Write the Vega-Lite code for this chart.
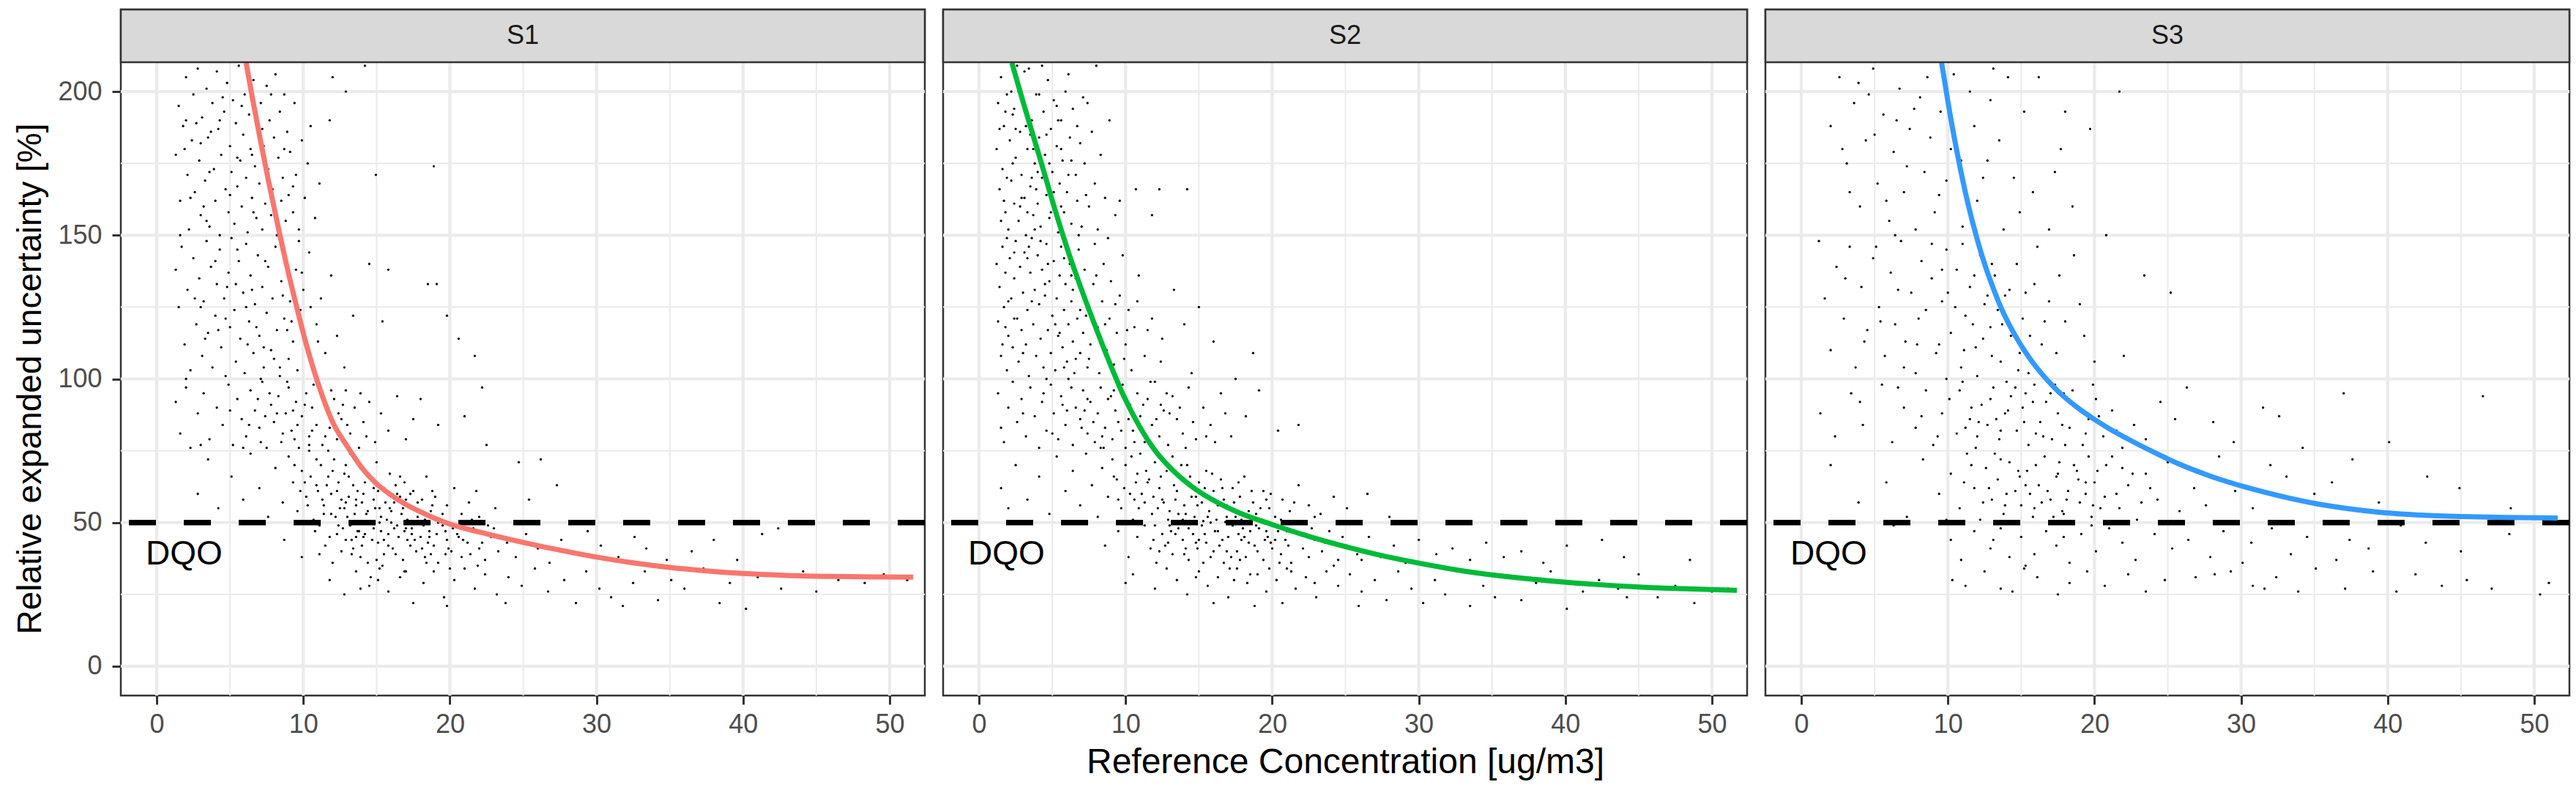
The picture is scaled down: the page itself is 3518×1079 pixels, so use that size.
{
  "$schema": "https://vega.github.io/schema/vega-lite/v6.json",
  "background": "white",
  "padding": {"left": 16, "top": 9, "right": 5, "bottom": 5},
  "spacing": 25,
  "bounds": "flush",
  "datasets": {
    "gxmaj": [{"v": 0}, {"v": 10}, {"v": 20}, {"v": 30}, {"v": 40}, {"v": 50}],
    "gxmin": [{"v": 5}, {"v": 15}, {"v": 25}, {"v": 35}, {"v": 45}],
    "gymaj": [{"v": 0}, {"v": 50}, {"v": 100}, {"v": 150}, {"v": 200}],
    "gymin": [{"v": 25}, {"v": 75}, {"v": 125}, {"v": 175}],
    "st1": [{"strip": "S1"}],
    "st2": [{"strip": "S2"}],
    "st3": [{"strip": "S3"}],
    "f1": [
      {"x": 6.1, "y": 210}, {"x": 6.5, "y": 198.5}, {"x": 7.0, "y": 185}, {"x": 7.6, "y": 169.5}, {"x": 8.3, "y": 152.5},
      {"x": 9.0, "y": 136.5}, {"x": 9.6, "y": 124}, {"x": 10.1, "y": 114}, {"x": 10.6, "y": 105}, {"x": 11.2, "y": 95.5},
      {"x": 12.0, "y": 85}, {"x": 13.0, "y": 76.5}, {"x": 14.0, "y": 69}, {"x": 15.0, "y": 63.5}, {"x": 16.0, "y": 59.5},
      {"x": 17.0, "y": 56.3}, {"x": 18.0, "y": 53.7}, {"x": 19.0, "y": 51.4}, {"x": 20.0, "y": 49.5}, {"x": 21.0, "y": 48.0},
      {"x": 22.5, "y": 46.1}, {"x": 25.0, "y": 43.1}, {"x": 27.5, "y": 40.4}, {"x": 30.0, "y": 38.0}, {"x": 32.5, "y": 36.0},
      {"x": 35.0, "y": 34.4}, {"x": 37.5, "y": 33.2}, {"x": 40.0, "y": 32.3}, {"x": 43.0, "y": 31.6}, {"x": 46.0, "y": 31.25},
      {"x": 49.0, "y": 31.08}, {"x": 51.6, "y": 31.0}
    ],
    "f2": [
      {"x": 2.24, "y": 210}, {"x": 3.0, "y": 196.5}, {"x": 4.25, "y": 175.2}, {"x": 5.1, "y": 160.3}, {"x": 6.04, "y": 145},
      {"x": 7.0, "y": 131}, {"x": 7.83, "y": 119.7}, {"x": 8.8, "y": 107}, {"x": 9.84, "y": 94.4}, {"x": 11.0, "y": 83},
      {"x": 12.08, "y": 74.6}, {"x": 13.2, "y": 68.3}, {"x": 14.3, "y": 63.4}, {"x": 15.9, "y": 58}, {"x": 17.7, "y": 53.5},
      {"x": 20.0, "y": 49.3}, {"x": 22.5, "y": 45.2}, {"x": 25.1, "y": 41.5}, {"x": 27.5, "y": 38.5}, {"x": 30.0, "y": 35.9},
      {"x": 33.0, "y": 33.2}, {"x": 36.0, "y": 31.2}, {"x": 39.0, "y": 29.7}, {"x": 42.0, "y": 28.5}, {"x": 45.0, "y": 27.6},
      {"x": 48.0, "y": 27.0}, {"x": 51.7, "y": 26.4}
    ],
    "f3": [
      {"x": 9.57, "y": 210}, {"x": 10.0, "y": 196.5}, {"x": 10.6, "y": 179.5}, {"x": 11.3, "y": 162.5}, {"x": 12.0, "y": 148.5},
      {"x": 12.6, "y": 138.5}, {"x": 13.1, "y": 131.5}, {"x": 13.65, "y": 124.5}, {"x": 14.6, "y": 115.0}, {"x": 15.2, "y": 110.0},
      {"x": 15.8, "y": 105.6}, {"x": 16.4, "y": 101.8}, {"x": 17.0, "y": 98.4}, {"x": 17.6, "y": 95.3}, {"x": 18.3, "y": 92.2},
      {"x": 19.0, "y": 89.4}, {"x": 20.0, "y": 85.9}, {"x": 21.0, "y": 82.7}, {"x": 22.2, "y": 79.3}, {"x": 24.0, "y": 74.6},
      {"x": 25.8, "y": 70.3}, {"x": 28.0, "y": 66.0}, {"x": 30.2, "y": 62.5}, {"x": 32.7, "y": 59.2}, {"x": 35.2, "y": 56.5},
      {"x": 37.5, "y": 54.7}, {"x": 39.6, "y": 53.5}, {"x": 42.3, "y": 52.6}, {"x": 45.1, "y": 52.1}, {"x": 48.0, "y": 51.8},
      {"x": 51.6, "y": 51.6}
    ],
    "s1": [
      {"x":1.3,"y":178},{"x":1.5,"y":195},{"x":1.6,"y":162},{"x":1.8,"y":188},{"x":2.0,"y":205},{"x":2.1,"y":171},{"x":2.2,"y":152},{"x":2.4,"y":183},{"x":2.5,"y":199},{"x":2.6,"y":165},
      {"x":2.8,"y":208},{"x":2.9,"y":176},{"x":3.0,"y":157},{"x":3.1,"y":191},{"x":3.3,"y":169},{"x":3.4,"y":201},{"x":3.5,"y":184},{"x":3.6,"y":153},{"x":3.8,"y":196},{"x":3.9,"y":173},
      {"x":4.0,"y":162},{"x":4.1,"y":207},{"x":4.2,"y":187},{"x":4.3,"y":150},{"x":4.4,"y":178},{"x":4.6,"y":193},{"x":4.7,"y":166},{"x":4.8,"y":203},{"x":4.9,"y":158},{"x":5.0,"y":181},
      {"x":5.1,"y":172},{"x":5.2,"y":197},{"x":5.3,"y":154},{"x":5.4,"y":189},{"x":5.5,"y":167},{"x":5.6,"y":209},{"x":5.7,"y":176},{"x":5.8,"y":160},{"x":5.9,"y":185},{"x":6.0,"y":199},
      {"x":6.1,"y":170},{"x":6.2,"y":151},{"x":6.3,"y":192},{"x":6.4,"y":180},{"x":6.5,"y":163},{"x":6.6,"y":204},{"x":6.7,"y":174},{"x":6.8,"y":156},{"x":6.9,"y":187},{"x":7.0,"y":168},
      {"x":7.1,"y":196},{"x":7.2,"y":152},{"x":7.3,"y":181},{"x":7.4,"y":161},{"x":7.5,"y":202},{"x":7.6,"y":173},{"x":7.7,"y":190},{"x":7.8,"y":157},{"x":7.9,"y":166},{"x":8.0,"y":184},
      {"x":8.1,"y":206},{"x":8.2,"y":150},{"x":8.3,"y":177},{"x":8.4,"y":193},{"x":8.5,"y":162},{"x":8.6,"y":170},{"x":8.7,"y":199},{"x":8.8,"y":155},{"x":8.9,"y":186},{"x":9.0,"y":164},
      {"x":9.1,"y":179},{"x":9.3,"y":158},{"x":9.4,"y":196},{"x":9.5,"y":171},{"x":9.7,"y":152},{"x":9.9,"y":183},{"x":10.1,"y":163},{"x":10.3,"y":175},{"x":10.5,"y":188},{"x":10.8,"y":156},
      {"x":11.1,"y":168},{"x":11.8,"y":190},{"x":12.0,"y":205},{"x":12.9,"y":200},{"x":14.2,"y":209},{"x":14.95,"y":171},{"x":18.9,"y":174},{"x":3.7,"y":186},{"x":2.7,"y":189},{"x":4.5,"y":198},
      {"x":5.5,"y":177},{"x":1.9,"y":180},{"x":6.6,"y":158},{"x":3.2,"y":160},{"x":7.8,"y":199},
      {"x":1.3,"y":138},{"x":1.5,"y":125},{"x":1.7,"y":146},{"x":1.9,"y":112},{"x":2.1,"y":131},{"x":2.3,"y":103},{"x":2.5,"y":142},{"x":2.7,"y":119},{"x":2.9,"y":135},{"x":3.1,"y":108},
      {"x":3.2,"y":127},{"x":3.4,"y":148},{"x":3.5,"y":116},{"x":3.7,"y":139},{"x":3.8,"y":104},{"x":4.0,"y":122},{"x":4.1,"y":133},{"x":4.3,"y":145},{"x":4.4,"y":111},{"x":4.6,"y":128},
      {"x":4.7,"y":101},{"x":4.9,"y":137},{"x":5.0,"y":118},{"x":5.1,"y":149},{"x":5.3,"y":124},{"x":5.4,"y":106},{"x":5.6,"y":141},{"x":5.7,"y":114},{"x":5.9,"y":130},{"x":6.0,"y":102},
      {"x":6.1,"y":147},{"x":6.3,"y":120},{"x":6.4,"y":136},{"x":6.6,"y":109},{"x":6.7,"y":126},{"x":6.9,"y":143},{"x":7.0,"y":115},{"x":7.2,"y":132},{"x":7.3,"y":104},{"x":7.5,"y":123},
      {"x":7.6,"y":139},{"x":7.8,"y":110},{"x":7.9,"y":128},{"x":8.1,"y":146},{"x":8.2,"y":117},{"x":8.4,"y":101},{"x":8.5,"y":134},{"x":8.7,"y":121},{"x":8.8,"y":142},{"x":9.0,"y":107},
      {"x":9.1,"y":127},{"x":9.3,"y":113},{"x":9.5,"y":138},{"x":9.6,"y":103},{"x":9.8,"y":124},{"x":10.0,"y":131},{"x":10.2,"y":112},{"x":10.4,"y":144},{"x":10.6,"y":105},{"x":10.9,"y":119},
      {"x":11.2,"y":128},{"x":11.5,"y":109},{"x":11.9,"y":136},{"x":12.3,"y":115},{"x":12.8,"y":104},{"x":13.4,"y":122},{"x":14.5,"y":140},{"x":15.8,"y":138},{"x":18.5,"y":133},{"x":19.1,"y":133},
      {"x":19.8,"y":122},{"x":15.4,"y":120},{"x":6.2,"y":112},{"x":4.8,"y":132},{"x":8.9,"y":117},{"x":5.5,"y":145},{"x":3.0,"y":125},{"x":7.1,"y":100},{"x":2.0,"y":100},{"x":9.7,"y":148},
      {"x":1.3,"y":92},{"x":1.6,"y":81},{"x":2.0,"y":97},{"x":2.3,"y":76},{"x":2.8,"y":88},{"x":3.2,"y":95},{"x":3.6,"y":79},{"x":4.1,"y":90},{"x":4.5,"y":84},{"x":4.9,"y":98},
      {"x":5.2,"y":77},{"x":5.5,"y":93},{"x":5.8,"y":86},{"x":6.1,"y":80},{"x":6.4,"y":96},{"x":6.7,"y":89},{"x":7.0,"y":83},{"x":7.2,"y":99},{"x":7.5,"y":76},{"x":7.8,"y":91},
      {"x":8.0,"y":85},{"x":8.3,"y":94},{"x":8.5,"y":78},{"x":8.8,"y":88},{"x":9.0,"y":97},{"x":9.2,"y":82},{"x":9.5,"y":92},{"x":9.7,"y":76},{"x":9.9,"y":87},{"x":10.2,"y":95},
      {"x":10.4,"y":80},{"x":10.6,"y":90},{"x":10.9,"y":84},{"x":11.1,"y":98},{"x":11.3,"y":77},{"x":11.6,"y":89},{"x":11.8,"y":83},{"x":12.1,"y":93},{"x":12.3,"y":79},{"x":12.6,"y":86},
      {"x":12.9,"y":96},{"x":13.2,"y":81},{"x":13.5,"y":90},{"x":13.8,"y":76},{"x":14.1,"y":85},{"x":14.5,"y":92},{"x":14.9,"y":78},{"x":15.3,"y":88},{"x":15.8,"y":82},{"x":16.4,"y":94},
      {"x":17.0,"y":79},{"x":18.0,"y":93},{"x":17.5,"y":86},{"x":20.6,"y":114},{"x":21.7,"y":108},{"x":22.2,"y":97},{"x":21.0,"y":87},{"x":19.2,"y":84},{"x":6.9,"y":93},{"x":8.6,"y":81},
      {"x":10.7,"y":98},{"x":12.4,"y":88},{"x":11.4,"y":92},{"x":13.9,"y":95},{"x":9.4,"y":79},{"x":5.9,"y":76},{"x":7.4,"y":87},{"x":3.0,"y":77},
      {"x":2.8,"y":60},{"x":3.5,"y":72},{"x":4.2,"y":55},{"x":5.1,"y":66},{"x":5.9,"y":58},{"x":6.4,"y":74},{"x":7.0,"y":62},{"x":7.6,"y":52},{"x":8.1,"y":69},{"x":8.6,"y":57},
      {"x":9.0,"y":73},{"x":9.3,"y":64},{"x":9.6,"y":54},{"x":9.9,"y":68},{"x":10.2,"y":59},{"x":10.4,"y":75},{"x":10.7,"y":51},{"x":10.9,"y":63},{"x":11.2,"y":70},{"x":11.4,"y":56},
      {"x":11.7,"y":66},{"x":11.9,"y":53},{"x":12.1,"y":72},{"x":12.3,"y":61},{"x":12.6,"y":58},{"x":12.8,"y":67},{"x":13.0,"y":52},{"x":13.2,"y":74},{"x":13.4,"y":63},{"x":13.6,"y":56},
      {"x":13.9,"y":69},{"x":14.1,"y":60},{"x":14.3,"y":53},{"x":14.6,"y":65},{"x":14.8,"y":58},{"x":15.0,"y":71},{"x":15.2,"y":55},{"x":15.5,"y":62},{"x":15.7,"y":51},{"x":15.9,"y":67},
      {"x":16.2,"y":57},{"x":16.4,"y":60},{"x":16.7,"y":53},{"x":16.9,"y":64},{"x":17.2,"y":56},{"x":17.5,"y":61},{"x":17.8,"y":52},{"x":18.1,"y":58},{"x":18.4,"y":66},{"x":18.7,"y":54},
      {"x":19.0,"y":59},{"x":19.4,"y":51},{"x":19.8,"y":56},{"x":20.3,"y":62},{"x":20.8,"y":53},{"x":21.3,"y":57},{"x":22.0,"y":52},{"x":22.5,"y":77},{"x":23.1,"y":55},{"x":24.7,"y":71},
      {"x":26.2,"y":72},{"x":27.3,"y":63},{"x":25.4,"y":58},{"x":12.5,"y":55},{"x":13.1,"y":59},{"x":14.4,"y":67},{"x":15.3,"y":52},{"x":16.0,"y":54},{"x":17.0,"y":58},{"x":11.0,"y":61},
      {"x":10.1,"y":64},{"x":18.8,"y":61},{"x":16.6,"y":66},{"x":14.0,"y":50.5},{"x":21.8,"y":61},
      {"x":8.7,"y":44},{"x":9.9,"y":38},{"x":10.8,"y":47},{"x":11.5,"y":42},{"x":12.0,"y":36},{"x":12.4,"y":49},{"x":12.9,"y":44},{"x":13.3,"y":39},{"x":13.7,"y":47},{"x":14.0,"y":42},
      {"x":14.4,"y":36},{"x":14.8,"y":48},{"x":15.1,"y":43},{"x":15.5,"y":39},{"x":15.8,"y":46},{"x":16.1,"y":41},{"x":16.4,"y":49},{"x":16.8,"y":37},{"x":17.1,"y":44},{"x":17.4,"y":48},
      {"x":17.7,"y":40},{"x":18.0,"y":45},{"x":18.3,"y":38},{"x":18.6,"y":47},{"x":18.9,"y":42},{"x":19.2,"y":36},{"x":19.5,"y":49},{"x":19.8,"y":44},{"x":20.1,"y":40},{"x":20.5,"y":46},
      {"x":20.8,"y":38},{"x":21.2,"y":43},{"x":21.6,"y":48},{"x":22.0,"y":41},{"x":22.4,"y":37},{"x":22.8,"y":45},{"x":23.3,"y":40},{"x":23.9,"y":43},{"x":24.5,"y":38},{"x":25.2,"y":46},
      {"x":26.0,"y":41},{"x":26.8,"y":36},{"x":27.6,"y":44},{"x":28.5,"y":39},{"x":29.4,"y":47},{"x":30.3,"y":42},{"x":31.5,"y":38},{"x":32.6,"y":45},{"x":33.4,"y":41},{"x":34.8,"y":37},
      {"x":36.5,"y":40},{"x":38.0,"y":44},{"x":39.6,"y":37},{"x":41.3,"y":46},{"x":42.4,"y":48},{"x":13.6,"y":45},{"x":15.0,"y":37},{"x":16.9,"y":47},{"x":18.1,"y":41},{"x":19.7,"y":39},
      {"x":17.3,"y":42},{"x":14.2,"y":46},{"x":21.4,"y":39},{"x":20.2,"y":48},{"x":11.1,"y":39},{"x":22.6,"y":49},
      {"x":11.8,"y":30},{"x":12.8,"y":25},{"x":13.6,"y":33},{"x":14.5,"y":28},{"x":15.2,"y":34},{"x":15.8,"y":26},{"x":16.6,"y":31},{"x":17.5,"y":22},{"x":18.2,"y":29},{"x":18.9,"y":33},
      {"x":19.6,"y":24},{"x":20.3,"y":30},{"x":21.0,"y":34},{"x":21.7,"y":27},{"x":22.4,"y":32},{"x":23.2,"y":25},{"x":24.0,"y":31},{"x":24.9,"y":28},{"x":25.8,"y":34},{"x":26.7,"y":26},
      {"x":27.8,"y":30},{"x":28.6,"y":22},{"x":29.3,"y":33},{"x":30.2,"y":27},{"x":31.0,"y":24},{"x":31.8,"y":21},{"x":32.5,"y":29},{"x":33.3,"y":33},{"x":34.2,"y":23},{"x":35.1,"y":30},
      {"x":36.0,"y":27},{"x":37.3,"y":34},{"x":38.4,"y":22},{"x":39.1,"y":29},{"x":40.2,"y":20},{"x":41.0,"y":31},{"x":42.6,"y":27},{"x":44.1,"y":33},{"x":45.0,"y":26},{"x":46.5,"y":30},
      {"x":48.3,"y":29},{"x":49.6,"y":32},{"x":51.2,"y":30},{"x":19.8,"y":21},{"x":17.0,"y":33},{"x":23.8,"y":22},{"x":15.1,"y":30},{"x":13.9,"y":27},
      {"x":9.4,"y":70},{"x":9.8,"y":61},{"x":10.3,"y":56},{"x":10.5,"y":66},{"x":10.9,"y":72},{"x":11.1,"y":49},{"x":11.3,"y":58},{"x":11.6,"y":63},{"x":11.8,"y":45},{"x":12.0,"y":68},
      {"x":12.2,"y":52},{"x":12.4,"y":64},{"x":12.7,"y":48},{"x":12.9,"y":57},{"x":13.1,"y":66},{"x":13.3,"y":44},{"x":13.5,"y":53},{"x":13.7,"y":61},{"x":13.8,"y":47},{"x":14.0,"y":57},
      {"x":14.2,"y":64},{"x":14.5,"y":50},{"x":14.7,"y":44},{"x":14.9,"y":55},{"x":15.1,"y":61},{"x":15.3,"y":47},{"x":15.6,"y":57},{"x":15.8,"y":42},{"x":16.0,"y":50},{"x":16.3,"y":63},
      {"x":16.5,"y":45},{"x":16.8,"y":55},{"x":17.0,"y":48},{"x":17.3,"y":60},{"x":17.6,"y":44},{"x":17.9,"y":54},{"x":18.2,"y":49},{"x":18.5,"y":43},{"x":18.8,"y":56},{"x":19.1,"y":46},
      {"x":19.5,"y":53},{"x":19.9,"y":41},{"x":20.4,"y":49},{"x":20.9,"y":44},{"x":21.5,"y":51},{"x":22.2,"y":43},{"x":23.0,"y":48},{"x":12.6,"y":40},{"x":13.9,"y":38},{"x":15.4,"y":35},
      {"x":16.9,"y":33},{"x":18.4,"y":36},{"x":20.0,"y":34},{"x":21.9,"y":35},{"x":14.6,"y":31},
      {"x":2.3,"y":163},{"x":3.0,"y":182},{"x":3.6,"y":172},{"x":4.3,"y":190},{"x":5.0,"y":164},{"x":5.8,"y":195},{"x":6.5,"y":178},{"x":7.2,"y":187},{"x":8.0,"y":159},{"x":8.7,"y":180},
      {"x":9.3,"y":167},{"x":2.6,"y":128},{"x":3.3,"y":114},{"x":4.0,"y":141},{"x":4.7,"y":121},{"x":5.4,"y":133},{"x":6.1,"y":125},{"x":6.8,"y":118},{"x":7.4,"y":141},{"x":8.0,"y":107},
      {"x":8.6,"y":129},{"x":9.2,"y":120},{"x":9.9,"y":137},{"x":10.5,"y":125},{"x":11.0,"y":113},{"x":5.0,"y":89},{"x":6.3,"y":84},{"x":7.7,"y":95},{"x":8.2,"y":88},{"x":9.6,"y":84},
      {"x":10.1,"y":91},{"x":11.5,"y":80},{"x":12.7,"y":91},{"x":13.0,"y":84},{"x":14.3,"y":80},{"x":11.9,"y":96},{"x":10.4,"y":77},{"x":8.9,"y":99},{"x":7.1,"y":78},
      {"x":11.4,"y":53},{"x":11.9,"y":60},{"x":12.3,"y":46},{"x":12.8,"y":55},{"x":13.2,"y":49},{"x":13.6,"y":58},{"x":14.1,"y":45},{"x":14.4,"y":54},{"x":14.8,"y":62},{"x":15.2,"y":50},
      {"x":15.5,"y":44},{"x":15.9,"y":55},{"x":16.2,"y":48},{"x":16.6,"y":59},{"x":17.1,"y":51},{"x":17.4,"y":46},{"x":17.8,"y":57},{"x":18.3,"y":51},{"x":18.6,"y":45},{"x":19.2,"y":50},
      {"x":19.7,"y":47},{"x":20.6,"y":45},{"x":13.4,"y":41},{"x":16.3,"y":39},{"x":18.7,"y":39},{"x":11.7,"y":75},{"x":12.9,"y":70},{"x":10.6,"y":82},{"x":9.3,"y":89},{"x":8.4,"y":104},
      {"x":7.3,"y":111},{"x":6.5,"y":131},{"x":4.2,"y":117},{"x":3.4,"y":155},{"x":2.0,"y":190},{"x":1.6,"y":150}
    ],
    "s2": [
      {"x":1.2,"y":180},{"x":1.3,"y":196},{"x":1.4,"y":166},{"x":1.5,"y":205},{"x":1.6,"y":173},{"x":1.7,"y":188},{"x":1.8,"y":158},{"x":1.9,"y":199},{"x":2.0,"y":152},{"x":2.1,"y":183},
      {"x":2.2,"y":169},{"x":2.3,"y":192},{"x":2.4,"y":161},{"x":2.5,"y":177},{"x":2.6,"y":203},{"x":2.7,"y":155},{"x":2.8,"y":186},{"x":2.9,"y":171},{"x":3.0,"y":196},{"x":3.1,"y":163},
      {"x":3.2,"y":150},{"x":3.3,"y":180},{"x":3.4,"y":208},{"x":3.5,"y":167},{"x":3.6,"y":190},{"x":3.7,"y":157},{"x":3.8,"y":175},{"x":3.9,"y":199},{"x":4.0,"y":161},{"x":4.1,"y":184},
      {"x":4.2,"y":153},{"x":4.3,"y":170},{"x":4.4,"y":193},{"x":4.5,"y":178},{"x":4.6,"y":164},{"x":4.7,"y":204},{"x":4.8,"y":156},{"x":4.9,"y":187},{"x":5.0,"y":172},{"x":5.1,"y":197},
      {"x":5.2,"y":160},{"x":5.3,"y":181},{"x":5.4,"y":151},{"x":5.5,"y":168},{"x":5.6,"y":190},{"x":5.7,"y":176},{"x":5.8,"y":158},{"x":5.9,"y":200},{"x":6.0,"y":165},{"x":6.2,"y":184},
      {"x":6.3,"y":154},{"x":6.4,"y":194},{"x":6.6,"y":171},{"x":6.7,"y":162},{"x":6.9,"y":182},{"x":7.0,"y":153},{"x":7.2,"y":175},{"x":7.4,"y":196},{"x":7.5,"y":160},{"x":7.7,"y":186},
      {"x":7.9,"y":168},{"x":8.1,"y":152},{"x":8.3,"y":178},{"x":8.6,"y":163},{"x":8.9,"y":190},{"x":9.3,"y":157},{"x":9.6,"y":162},{"x":10.7,"y":166},{"x":11.8,"y":157},{"x":14.2,"y":166},
      {"x":12.3,"y":166},{"x":8.0,"y":209},{"x":4.3,"y":209},{"x":3.1,"y":207},{"x":2.6,"y":209},{"x":1.9,"y":170},{"x":2.4,"y":194},{"x":3.5,"y":185},{"x":4.8,"y":175},{"x":5.6,"y":160},
      {"x":6.1,"y":206},{"x":1.5,"y":155},{"x":2.9,"y":163},{"x":3.8,"y":152},{"x":7.1,"y":198},{"x":5.3,"y":195},{"x":4.0,"y":172},{"x":2.2,"y":200},{"x":1.4,"y":187},{"x":3.3,"y":158},
      {"x":6.8,"y":150},
      {"x":1.2,"y":140},{"x":1.3,"y":120},{"x":1.4,"y":132},{"x":1.5,"y":108},{"x":1.6,"y":146},{"x":1.7,"y":125},{"x":1.8,"y":137},{"x":1.9,"y":103},{"x":2.0,"y":115},{"x":2.1,"y":142},
      {"x":2.2,"y":128},{"x":2.3,"y":111},{"x":2.4,"y":135},{"x":2.5,"y":148},{"x":2.6,"y":121},{"x":2.7,"y":106},{"x":2.8,"y":139},{"x":2.9,"y":117},{"x":3.0,"y":130},{"x":3.1,"y":144},
      {"x":3.2,"y":112},{"x":3.3,"y":124},{"x":3.4,"y":101},{"x":3.5,"y":137},{"x":3.6,"y":149},{"x":3.7,"y":119},{"x":3.8,"y":131},{"x":3.9,"y":108},{"x":4.0,"y":143},{"x":4.1,"y":126},
      {"x":4.2,"y":114},{"x":4.3,"y":138},{"x":4.4,"y":104},{"x":4.5,"y":129},{"x":4.6,"y":147},{"x":4.7,"y":117},{"x":4.8,"y":134},{"x":4.9,"y":109},{"x":5.0,"y":122},{"x":5.1,"y":141},
      {"x":5.2,"y":103},{"x":5.3,"y":128},{"x":5.4,"y":115},{"x":5.5,"y":136},{"x":5.6,"y":146},{"x":5.7,"y":111},{"x":5.8,"y":124},{"x":5.9,"y":133},{"x":6.0,"y":106},{"x":6.1,"y":119},
      {"x":6.2,"y":140},{"x":6.3,"y":127},{"x":6.4,"y":113},{"x":6.5,"y":102},{"x":6.6,"y":135},{"x":6.7,"y":121},{"x":6.8,"y":145},{"x":6.9,"y":109},{"x":7.0,"y":130},{"x":7.1,"y":116},
      {"x":7.2,"y":138},{"x":7.4,"y":104},{"x":7.5,"y":124},{"x":7.6,"y":112},{"x":7.8,"y":133},{"x":7.9,"y":147},{"x":8.1,"y":118},{"x":8.2,"y":102},{"x":8.4,"y":127},{"x":8.5,"y":140},
      {"x":8.7,"y":110},{"x":8.9,"y":121},{"x":9.0,"y":134},{"x":9.2,"y":105},{"x":9.4,"y":116},{"x":9.6,"y":129},{"x":9.8,"y":143},{"x":10.0,"y":112},{"x":10.2,"y":124},{"x":10.4,"y":103},
      {"x":10.6,"y":118},{"x":10.9,"y":136},{"x":11.3,"y":108},{"x":11.8,"y":121},{"x":12.5,"y":114},{"x":13.3,"y":131},{"x":14.0,"y":119},{"x":16.0,"y":113},{"x":18.7,"y":109},{"x":14.5,"y":102},
      {"x":15.0,"y":125},{"x":3.4,"y":146},{"x":2.0,"y":127},{"x":4.6,"y":100},{"x":5.8,"y":142},{"x":7.3,"y":122},{"x":6.4,"y":131},{"x":8.8,"y":149},{"x":1.6,"y":112},{"x":9.9,"y":107},
      {"x":1.3,"y":95},{"x":1.5,"y":83},{"x":1.7,"y":78},{"x":2.0,"y":90},{"x":2.3,"y":99},{"x":2.6,"y":85},{"x":2.9,"y":93},{"x":3.2,"y":80},{"x":3.5,"y":97},{"x":3.8,"y":87},
      {"x":4.1,"y":76},{"x":4.3,"y":92},{"x":4.6,"y":82},{"x":4.9,"y":98},{"x":5.1,"y":88},{"x":5.4,"y":79},{"x":5.6,"y":94},{"x":5.9,"y":84},{"x":6.1,"y":100},{"x":6.4,"y":77},
      {"x":6.6,"y":90},{"x":6.9,"y":86},{"x":7.1,"y":96},{"x":7.4,"y":81},{"x":7.6,"y":92},{"x":7.9,"y":78},{"x":8.1,"y":88},{"x":8.3,"y":97},{"x":8.6,"y":83},{"x":8.8,"y":93},
      {"x":9.1,"y":79},{"x":9.3,"y":89},{"x":9.5,"y":85},{"x":9.8,"y":98},{"x":10.0,"y":76},{"x":10.3,"y":91},{"x":10.5,"y":82},{"x":10.8,"y":95},{"x":11.0,"y":87},{"x":11.3,"y":78},
      {"x":11.5,"y":93},{"x":11.8,"y":84},{"x":12.0,"y":99},{"x":12.3,"y":80},{"x":12.6,"y":89},{"x":12.9,"y":77},{"x":13.2,"y":94},{"x":13.5,"y":86},{"x":13.9,"y":81},{"x":14.3,"y":97},
      {"x":14.8,"y":79},{"x":15.3,"y":90},{"x":15.8,"y":84},{"x":16.5,"y":95},{"x":17.2,"y":80},{"x":18.2,"y":87},{"x":19.1,"y":96},{"x":20.4,"y":82},{"x":21.8,"y":84},{"x":17.5,"y":100},
      {"x":16.1,"y":78},{"x":13.0,"y":88},{"x":11.7,"y":99},{"x":10.2,"y":86},{"x":9.0,"y":94},{"x":7.0,"y":83},{"x":8.5,"y":76},{"x":6.0,"y":89},{"x":4.4,"y":95},{"x":3.0,"y":88},
      {"x":12.4,"y":91},{"x":14.1,"y":76},
      {"x":1.5,"y":62},{"x":2.0,"y":55},{"x":2.5,"y":70},{"x":3.3,"y":58},{"x":4.1,"y":66},{"x":4.8,"y":53},{"x":5.3,"y":73},{"x":5.9,"y":61},{"x":6.4,"y":68},{"x":6.9,"y":56},
      {"x":7.3,"y":74},{"x":7.7,"y":63},{"x":8.1,"y":52},{"x":8.4,"y":69},{"x":8.8,"y":59},{"x":9.1,"y":72},{"x":9.4,"y":65},{"x":9.7,"y":55},{"x":10.0,"y":70},{"x":10.3,"y":60},
      {"x":10.5,"y":51},{"x":10.8,"y":67},{"x":11.0,"y":74},{"x":11.3,"y":57},{"x":11.5,"y":64},{"x":11.8,"y":53},{"x":12.0,"y":71},{"x":12.3,"y":62},{"x":12.5,"y":58},{"x":12.8,"y":68},
      {"x":13.0,"y":54},{"x":13.2,"y":73},{"x":13.5,"y":61},{"x":13.7,"y":66},{"x":14.0,"y":56},{"x":14.2,"y":70},{"x":14.5,"y":59},{"x":14.7,"y":52},{"x":15.0,"y":64},{"x":15.2,"y":57},
      {"x":15.5,"y":68},{"x":15.7,"y":54},{"x":16.0,"y":61},{"x":16.2,"y":51},{"x":16.5,"y":65},{"x":16.7,"y":58},{"x":17.0,"y":55},{"x":17.3,"y":62},{"x":17.5,"y":52},{"x":17.8,"y":59},
      {"x":18.1,"y":66},{"x":18.4,"y":54},{"x":18.7,"y":57},{"x":19.0,"y":51},{"x":19.4,"y":61},{"x":19.8,"y":55},{"x":20.2,"y":52},{"x":20.7,"y":58},{"x":21.2,"y":54},{"x":21.8,"y":63},
      {"x":22.5,"y":56},{"x":23.3,"y":53},{"x":24.2,"y":59},{"x":25.1,"y":55},{"x":26.5,"y":60},{"x":28.0,"y":52},{"x":13.9,"y":51},{"x":15.3,"y":50.5},{"x":16.8,"y":50.2},{"x":17.9,"y":51},
      {"x":12.2,"y":55},{"x":11.1,"y":60},{"x":14.6,"y":62},{"x":16.3,"y":56},{"x":18.9,"y":53},{"x":13.4,"y":58},{"x":15.9,"y":67},{"x":19.6,"y":58},{"x":10.7,"y":64},{"x":9.5,"y":58},
      {"x":8.6,"y":42},{"x":9.5,"y":47},{"x":10.2,"y":38},{"x":10.8,"y":45},{"x":11.3,"y":49},{"x":11.7,"y":41},{"x":12.1,"y":36},{"x":12.5,"y":46},{"x":12.9,"y":43},{"x":13.2,"y":39},
      {"x":13.6,"y":48},{"x":13.9,"y":44},{"x":14.3,"y":37},{"x":14.6,"y":46},{"x":14.9,"y":41},{"x":15.2,"y":49},{"x":15.5,"y":43},{"x":15.8,"y":38},{"x":16.1,"y":47},{"x":16.4,"y":42},
      {"x":16.7,"y":36},{"x":17.0,"y":45},{"x":17.3,"y":49},{"x":17.6,"y":40},{"x":17.9,"y":44},{"x":18.2,"y":38},{"x":18.5,"y":47},{"x":18.8,"y":42},{"x":19.1,"y":48},{"x":19.4,"y":37},
      {"x":19.7,"y":45},{"x":20.0,"y":41},{"x":20.3,"y":49},{"x":20.6,"y":39},{"x":20.9,"y":44},{"x":21.3,"y":36},{"x":21.7,"y":46},{"x":22.1,"y":41},{"x":22.5,"y":38},{"x":22.9,"y":44},
      {"x":23.4,"y":40},{"x":23.9,"y":47},{"x":24.5,"y":37},{"x":25.1,"y":42},{"x":25.8,"y":39},{"x":26.6,"y":45},{"x":27.4,"y":38},{"x":28.3,"y":42},{"x":29.1,"y":36},{"x":30.0,"y":44},
      {"x":31.2,"y":39},{"x":32.3,"y":41},{"x":33.5,"y":37},{"x":34.6,"y":43},{"x":35.8,"y":38},{"x":37.0,"y":40},{"x":38.5,"y":36},{"x":40.1,"y":42},{"x":42.5,"y":44},{"x":44.0,"y":38},
      {"x":48.5,"y":37},{"x":15.0,"y":44},{"x":16.9,"y":40},{"x":18.0,"y":48},{"x":19.9,"y":43},{"x":21.0,"y":47},{"x":14.1,"y":41},{"x":13.0,"y":49},{"x":17.8,"y":37},{"x":20.5,"y":36},
      {"x":22.7,"y":48},{"x":12.3,"y":40},{"x":11.9,"y":44},
      {"x":10.0,"y":29},{"x":10.5,"y":32},{"x":12.0,"y":27},{"x":12.8,"y":34},{"x":13.5,"y":30},{"x":14.2,"y":25},{"x":15.0,"y":33},{"x":15.6,"y":28},{"x":16.3,"y":31},{"x":17.0,"y":24},
      {"x":17.6,"y":34},{"x":18.3,"y":29},{"x":19.0,"y":32},{"x":19.6,"y":26},{"x":20.3,"y":30},{"x":21.0,"y":34},{"x":21.6,"y":27},{"x":22.3,"y":31},{"x":23.0,"y":24},{"x":23.7,"y":33},
      {"x":24.5,"y":28},{"x":25.3,"y":32},{"x":26.1,"y":26},{"x":27.0,"y":30},{"x":27.8,"y":23},{"x":28.6,"y":33},{"x":29.5,"y":27},{"x":30.3,"y":22},{"x":31.1,"y":30},{"x":31.8,"y":25},
      {"x":32.6,"y":33},{"x":33.5,"y":21},{"x":34.4,"y":28},{"x":35.2,"y":24},{"x":36.1,"y":31},{"x":37.0,"y":23},{"x":38.0,"y":29},{"x":39.0,"y":33},{"x":40.1,"y":20},{"x":41.2,"y":26},
      {"x":42.3,"y":30},{"x":43.6,"y":27},{"x":45.0,"y":32},{"x":46.3,"y":24},{"x":47.5,"y":28},{"x":48.8,"y":22},{"x":50.0,"y":26},{"x":51.1,"y":27},{"x":44.2,"y":24},{"x":16.0,"y":22},
      {"x":18.8,"y":21},{"x":20.7,"y":22},{"x":14.8,"y":31},{"x":25.9,"y":21},{"x":17.4,"y":30},{"x":22.9,"y":29},{"x":19.8,"y":34},
      {"x":1.8,"y":193},{"x":2.3,"y":175},{"x":2.8,"y":160},{"x":3.2,"y":188},{"x":3.6,"y":170},{"x":4.1,"y":199},{"x":4.6,"y":185},{"x":5.1,"y":165},{"x":5.6,"y":180},{"x":6.1,"y":171},
      {"x":6.7,"y":188},{"x":7.3,"y":164},{"x":1.7,"y":162},{"x":2.5,"y":187},{"x":3.9,"y":166},
      {"x":1.8,"y":118},{"x":2.4,"y":144},{"x":3.0,"y":109},{"x":3.6,"y":127},{"x":4.2,"y":148},{"x":4.7,"y":140},{"x":5.2,"y":119},{"x":5.8,"y":104},{"x":6.3,"y":136},{"x":6.9,"y":124},
      {"x":7.5,"y":107},{"x":8.0,"y":136},{"x":8.6,"y":119},{"x":9.3,"y":126},{"x":10.1,"y":117},{"x":10.8,"y":127},{"x":11.5,"y":117},{"x":12.4,"y":106},
      {"x":5.0,"y":81},{"x":5.7,"y":91},{"x":6.3,"y":97},{"x":7.2,"y":89},{"x":7.8,"y":85},{"x":8.4,"y":80},{"x":9.2,"y":96},{"x":9.7,"y":82},{"x":10.6,"y":78},{"x":11.2,"y":91},
      {"x":12.1,"y":86},{"x":12.8,"y":95},{"x":13.7,"y":90},{"x":14.6,"y":85},{"x":15.5,"y":80},{"x":16.8,"y":88},
      {"x":9.9,"y":62},{"x":10.4,"y":73},{"x":10.9,"y":55},{"x":11.4,"y":68},{"x":11.9,"y":59},{"x":12.4,"y":66},{"x":12.9,"y":51},{"x":13.3,"y":63},{"x":13.8,"y":70},{"x":14.1,"y":53},
      {"x":14.4,"y":66},{"x":14.9,"y":56},{"x":15.4,"y":62},{"x":15.8,"y":50},{"x":16.1,"y":58},{"x":16.6,"y":62},{"x":16.9,"y":52},{"x":17.4,"y":57},{"x":17.7,"y":64},{"x":18.3,"y":50},
      {"x":18.6,"y":61},{"x":19.2,"y":55},{"x":19.9,"y":60},{"x":20.6,"y":51},{"x":21.5,"y":57},{"x":22.9,"y":52},
      {"x":12.7,"y":42},{"x":13.4,"y":46},{"x":14.0,"y":39},{"x":14.8,"y":43},{"x":15.4,"y":46},{"x":16.0,"y":40},{"x":16.6,"y":44},{"x":17.2,"y":38},{"x":17.7,"y":46},{"x":18.4,"y":43},
      {"x":19.0,"y":40},{"x":19.6,"y":47},{"x":20.2,"y":44},{"x":21.1,"y":42},{"x":22.3,"y":46},{"x":23.6,"y":43},{"x":24.8,"y":45},{"x":26.1,"y":37},{"x":15.3,"y":36},{"x":17.1,"y":34},
      {"x":18.5,"y":32},{"x":21.3,"y":33},{"x":24.2,"y":35},
      {"x":12.6,"y":57},{"x":13.1,"y":47},{"x":13.6,"y":53},{"x":14.3,"y":48},{"x":14.8,"y":59},{"x":15.6,"y":52},{"x":16.3,"y":47},{"x":16.9,"y":56},{"x":17.6,"y":50},{"x":18.1,"y":45},
      {"x":18.9,"y":49},{"x":19.5,"y":44},{"x":20.4,"y":47},{"x":11.6,"y":65},{"x":12.0,"y":49},{"x":10.6,"y":58},{"x":9.2,"y":66},{"x":8.3,"y":76},{"x":7.4,"y":93},{"x":6.6,"y":107},
      {"x":5.5,"y":116},{"x":4.5,"y":133},{"x":3.3,"y":142},{"x":2.4,"y":121},{"x":1.9,"y":149},{"x":4.9,"y":158},{"x":3.7,"y":180},{"x":2.7,"y":200},{"x":6.3,"y":176},{"x":5.4,"y":190}
    ],
    "s3": [
      {"x":2.0,"y":188},{"x":2.6,"y":205},{"x":3.1,"y":175},{"x":3.6,"y":196},{"x":4.0,"y":160},{"x":4.4,"y":183},{"x":4.9,"y":208},{"x":5.2,"y":168},{"x":5.6,"y":192},{"x":6.0,"y":155},
      {"x":6.3,"y":179},{"x":6.7,"y":201},{"x":7.0,"y":165},{"x":7.4,"y":187},{"x":7.8,"y":152},{"x":8.1,"y":198},{"x":8.4,"y":172},{"x":8.8,"y":184},{"x":9.1,"y":158},{"x":9.5,"y":193},
      {"x":9.9,"y":169},{"x":10.4,"y":206},{"x":10.9,"y":176},{"x":11.3,"y":161},{"x":11.8,"y":188},{"x":12.4,"y":170},{"x":12.9,"y":197},{"x":13.5,"y":183},{"x":14.1,"y":205},{"x":14.5,"y":170},
      {"x":15.2,"y":193},{"x":16.2,"y":205},{"x":17.7,"y":180},{"x":17.3,"y":172},{"x":18.5,"y":160},{"x":21.7,"y":200},{"x":13.1,"y":208},{"x":11.0,"y":153},{"x":12.0,"y":162},{"x":7.2,"y":174},
      {"x":5.0,"y":185},{"x":3.3,"y":165},{"x":8.6,"y":205},{"x":6.5,"y":190},{"x":10.2,"y":180},{"x":4.6,"y":199},{"x":2.8,"y":180},{"x":9.4,"y":164},{"x":12.7,"y":176},{"x":14.9,"y":158},
      {"x":15.8,"y":165},{"x":16.9,"y":152},{"x":5.8,"y":162},{"x":7.7,"y":194},{"x":11.5,"y":200},{"x":13.8,"y":152},{"x":3.9,"y":203},{"x":19.7,"y":187},{"x":18.0,"y":193},
      {"x":1.2,"y":148},{"x":1.6,"y":128},{"x":2.0,"y":110},{"x":2.4,"y":139},{"x":2.9,"y":121},{"x":3.3,"y":146},{"x":3.7,"y":104},{"x":4.1,"y":132},{"x":4.5,"y":117},{"x":4.9,"y":142},
      {"x":5.3,"y":125},{"x":5.7,"y":108},{"x":6.1,"y":137},{"x":6.4,"y":119},{"x":6.8,"y":148},{"x":7.1,"y":113},{"x":7.5,"y":130},{"x":7.8,"y":102},{"x":8.2,"y":141},{"x":8.5,"y":124},
      {"x":8.9,"y":135},{"x":9.2,"y":109},{"x":9.6,"y":127},{"x":9.9,"y":145},{"x":10.2,"y":116},{"x":10.6,"y":138},{"x":10.9,"y":104},{"x":11.2,"y":122},{"x":11.5,"y":132},{"x":11.9,"y":111},
      {"x":12.2,"y":143},{"x":12.5,"y":126},{"x":12.9,"y":118},{"x":13.2,"y":136},{"x":13.6,"y":106},{"x":13.9,"y":129},{"x":14.3,"y":115},{"x":14.7,"y":140},{"x":15.1,"y":121},{"x":15.5,"y":102},
      {"x":15.9,"y":133},{"x":16.4,"y":112},{"x":16.9,"y":127},{"x":17.4,"y":109},{"x":18.0,"y":120},{"x":18.6,"y":143},{"x":19.3,"y":115},{"x":20.0,"y":106},{"x":20.8,"y":150},{"x":22.0,"y":108},
      {"x":23.4,"y":136},{"x":25.2,"y":130},{"x":19.0,"y":126},{"x":17.6,"y":136},{"x":10.0,"y":130},{"x":11.7,"y":119},{"x":13.0,"y":140},{"x":8.0,"y":121},{"x":6.6,"y":131},{"x":4.3,"y":113},
      {"x":14.9,"y":109},{"x":12.0,"y":101},{"x":9.4,"y":112},{"x":16.1,"y":146},{"x":7.0,"y":104},{"x":3.0,"y":135},{"x":5.1,"y":146},{"x":11.0,"y":147},{"x":13.4,"y":124},{"x":15.3,"y":130},
      {"x":1.3,"y":88},{"x":2.3,"y":80},{"x":3.4,"y":95},{"x":4.2,"y":84},{"x":5.5,"y":98},{"x":6.2,"y":78},{"x":7.0,"y":90},{"x":7.8,"y":83},{"x":8.5,"y":96},{"x":9.0,"y":77},
      {"x":9.6,"y":88},{"x":10.1,"y":93},{"x":10.6,"y":81},{"x":11.0,"y":99},{"x":11.5,"y":86},{"x":11.9,"y":76},{"x":12.3,"y":91},{"x":12.7,"y":84},{"x":13.1,"y":97},{"x":13.5,"y":79},
      {"x":13.9,"y":88},{"x":14.3,"y":94},{"x":14.7,"y":82},{"x":15.1,"y":90},{"x":15.5,"y":77},{"x":15.9,"y":98},{"x":16.3,"y":85},{"x":16.7,"y":92},{"x":17.1,"y":79},{"x":17.5,"y":88},
      {"x":17.9,"y":95},{"x":18.3,"y":83},{"x":18.7,"y":90},{"x":19.2,"y":77},{"x":19.6,"y":86},{"x":20.1,"y":93},{"x":20.6,"y":80},{"x":21.2,"y":89},{"x":21.9,"y":76},{"x":22.7,"y":84},
      {"x":23.5,"y":79},{"x":24.5,"y":92},{"x":25.5,"y":86},{"x":26.3,"y":97},{"x":28.1,"y":85},{"x":29.5,"y":78},{"x":31.5,"y":90},{"x":32.6,"y":87},{"x":34.2,"y":76},{"x":37.0,"y":95},
      {"x":40.1,"y":78},{"x":46.5,"y":94},{"x":12.0,"y":80},{"x":14.0,"y":99},{"x":16.0,"y":81},{"x":18.0,"y":77},{"x":15.3,"y":95},{"x":13.3,"y":86},{"x":17.3,"y":98},{"x":11.2,"y":83},
      {"x":19.9,"y":98},{"x":9.9,"y":100},
      {"x":2.0,"y":70},{"x":3.9,"y":57},{"x":5.8,"y":64},{"x":7.2,"y":52},{"x":8.3,"y":72},{"x":9.4,"y":60},{"x":10.2,"y":67},{"x":10.8,"y":55},{"x":11.3,"y":74},{"x":11.8,"y":62},
      {"x":12.2,"y":51},{"x":12.6,"y":69},{"x":13.0,"y":58},{"x":13.4,"y":65},{"x":13.8,"y":53},{"x":14.2,"y":71},{"x":14.6,"y":61},{"x":15.0,"y":56},{"x":15.4,"y":68},{"x":15.8,"y":52},
      {"x":16.2,"y":63},{"x":16.6,"y":73},{"x":17.0,"y":58},{"x":17.4,"y":66},{"x":17.8,"y":54},{"x":18.2,"y":61},{"x":18.6,"y":70},{"x":19.0,"y":57},{"x":19.4,"y":64},{"x":19.8,"y":52},
      {"x":20.2,"y":68},{"x":20.7,"y":59},{"x":21.2,"y":73},{"x":21.7,"y":55},{"x":22.3,"y":63},{"x":22.9,"y":51},{"x":23.5,"y":67},{"x":24.3,"y":58},{"x":25.0,"y":71},{"x":25.8,"y":54},
      {"x":26.8,"y":62},{"x":27.6,"y":56},{"x":28.5,"y":73},{"x":29.6,"y":61},{"x":30.8,"y":55},{"x":32.0,"y":70},{"x":33.1,"y":66},{"x":35.0,"y":60},{"x":36.2,"y":64},{"x":37.6,"y":72},
      {"x":39.4,"y":57},{"x":42.7,"y":66},{"x":44.9,"y":62},{"x":48.4,"y":55},{"x":13.2,"y":74},{"x":14.9,"y":66},{"x":16.4,"y":57},{"x":17.6,"y":71},{"x":18.9,"y":65},{"x":20.4,"y":55},
      {"x":15.6,"y":60},{"x":12.4,"y":57},{"x":11.1,"y":64},{"x":19.6,"y":73},{"x":21.9,"y":69},{"x":17.2,"y":52},{"x":14.4,"y":50.5},{"x":9.9,"y":51},{"x":23.8,"y":62},
      {"x":6.3,"y":49},{"x":10.2,"y":44},{"x":10.9,"y":37},{"x":11.8,"y":47},{"x":12.9,"y":41},{"x":13.6,"y":48},{"x":14.2,"y":38},{"x":15.0,"y":45},{"x":15.9,"y":39},{"x":16.7,"y":47},
      {"x":17.4,"y":42},{"x":18.3,"y":36},{"x":19.1,"y":46},{"x":20.1,"y":40},{"x":21.0,"y":48},{"x":21.9,"y":43},{"x":22.8,"y":37},{"x":24.1,"y":46},{"x":25.3,"y":41},{"x":26.4,"y":44},
      {"x":27.9,"y":38},{"x":28.8,"y":47},{"x":30.1,"y":36},{"x":30.7,"y":43},{"x":32.1,"y":48},{"x":33.4,"y":39},{"x":34.5,"y":45},{"x":36.5,"y":37},{"x":37.4,"y":44},{"x":38.7,"y":41},
      {"x":40.9,"y":49},{"x":42.6,"y":43},{"x":45.0,"y":40},{"x":48.3,"y":46},{"x":19.8,"y":49},{"x":17.9,"y":45},{"x":13.1,"y":44},{"x":15.3,"y":35},
      {"x":10.3,"y":30},{"x":11.2,"y":28},{"x":12.5,"y":33},{"x":13.6,"y":27},{"x":14.4,"y":26},{"x":15.2,"y":34},{"x":16.1,"y":31},{"x":17.5,"y":25},{"x":18.3,"y":29},{"x":19.5,"y":33},
      {"x":20.7,"y":28},{"x":22.3,"y":32},{"x":23.5,"y":26},{"x":24.8,"y":30},{"x":26.9,"y":31},{"x":28.2,"y":32},{"x":29.3,"y":33},{"x":30.8,"y":28},{"x":31.6,"y":27},{"x":32.4,"y":31},
      {"x":33.9,"y":26},{"x":35.1,"y":34},{"x":37.1,"y":27},{"x":39.0,"y":33},{"x":40.6,"y":26},{"x":41.9,"y":32},{"x":43.7,"y":28},{"x":45.4,"y":30},{"x":47.1,"y":27},{"x":50.4,"y":25},
      {"x":51.0,"y":29},
      {"x":10.5,"y":125},{"x":11.1,"y":110},{"x":11.8,"y":136},{"x":12.4,"y":114},{"x":13.0,"y":108},{"x":13.7,"y":119},{"x":14.2,"y":131},{"x":14.8,"y":103},{"x":15.6,"y":115},{"x":16.6,"y":120},
      {"x":12.7,"y":129},{"x":10.8,"y":96},{"x":11.6,"y":90},{"x":12.1,"y":85},{"x":12.9,"y":93},{"x":13.6,"y":82},{"x":14.1,"y":89},{"x":14.6,"y":97},{"x":15.2,"y":85},{"x":15.8,"y":92},
      {"x":16.5,"y":80},{"x":17.0,"y":95},{"x":17.8,"y":84},{"x":18.5,"y":96},{"x":19.4,"y":81},{"x":20.3,"y":87},{"x":21.5,"y":82},{"x":11.6,"y":70},{"x":12.8,"y":62},{"x":13.6,"y":72},
      {"x":14.0,"y":60},{"x":14.8,"y":68},{"x":15.3,"y":63},{"x":16.0,"y":70},{"x":16.8,"y":61},{"x":17.5,"y":67},{"x":18.1,"y":58},{"x":18.8,"y":68},{"x":19.4,"y":60},{"x":20.0,"y":64},
      {"x":20.8,"y":70},{"x":21.5,"y":60},{"x":22.6,"y":67},{"x":23.2,"y":57},{"x":15.9,"y":55},{"x":17.9,"y":53},{"x":19.9,"y":56},{"x":13.9,"y":56},{"x":6.4,"y":150},{"x":8.9,"y":147},
      {"x":5.4,"y":120},{"x":7.9,"y":112},{"x":9.6,"y":138},{"x":4.0,"y":92},{"x":6.6,"y":97},{"x":8.2,"y":87},{"x":9.3,"y":80}
    ]
  },
  "hconcat": [
    {
      "width": 1098,
      "height": 937,
      "resolve": {"axis": {"x": "independent", "y": "independent"}},
      "layer": [
        {"data": {"name": "gxmin"}, "mark": {"type": "rule", "color": "#EBEBEB", "strokeWidth": 2.1}, "encoding": {"x": {"field": "v", "type": "quantitative", "axis": null}}},
        {"data": {"name": "gymin"}, "mark": {"type": "rule", "color": "#EBEBEB", "strokeWidth": 2.1}, "encoding": {"y": {"field": "v", "type": "quantitative", "axis": null}}},
        {"data": {"name": "gxmaj"}, "mark": {"type": "rule", "color": "#EBEBEB", "strokeWidth": 4.2}, "encoding": {"x": {"field": "v", "type": "quantitative", "axis": null}}},
        {"data": {"name": "gymaj"}, "mark": {"type": "rule", "color": "#EBEBEB", "strokeWidth": 4.2}, "encoding": {"y": {"field": "v", "type": "quantitative", "axis": null}}},
        {
          "data": {"name": "s1"},
          "mark": {"type": "circle", "size": 11, "color": "black", "opacity": 1, "clip": true},
          "encoding": {
            "x": {"field": "x", "type": "quantitative", "scale": {"domain": [-2.45, 52.4], "nice": false, "zero": false},
                  "axis": {"orient": "bottom", "values": [0, 10, 20, 30, 40, 50], "title": null}},
            "y": {"field": "y", "type": "quantitative", "scale": {"domain": [-10.2, 228.55], "nice": false, "zero": false},
                  "axis": {"orient": "left", "values": [0, 50, 100, 150, 200], "title": "Relative expanded uncertainty [%]", "titleFontSize": 46,
                           "titleX": -110, "titleY": 504, "titleAngle": 270, "titleAlign": "center", "titleBaseline": "alphabetic", "labelPadding": 14}}
          }
        },
        {"data": {"name": "st1"}, "mark": {"type": "rule", "color": "black", "strokeWidth": 7.5, "strokeDash": [37, 38]}, "encoding": {"y": {"datum": 50, "type": "quantitative", "axis": null}}},
        {"data": {"name": "f1"}, "mark": {"type": "line", "color": "#F8766D", "strokeWidth": 7, "interpolate": "monotone", "clip": true},
         "encoding": {"x": {"field": "x", "type": "quantitative", "axis": null}, "y": {"field": "y", "type": "quantitative", "axis": null}}},
        {"data": {"name": "st1"}, "mark": {"type": "text", "text": "DQO", "fontSize": 46, "align": "left", "baseline": "alphabetic", "color": "black"},
         "encoding": {"x": {"datum": -0.75, "type": "quantitative", "axis": null}, "y": {"datum": 35.3, "type": "quantitative", "axis": null}}},
        {"data": {"name": "st1"}, "mark": {"type": "rect", "fill": "#D9D9D9", "stroke": "#333333", "strokeWidth": 2.5},
         "encoding": {"x": {"datum": -2.45, "type": "quantitative", "axis": null}, "x2": {"datum": 52.4}, "y": {"datum": 210.2, "type": "quantitative", "axis": null}, "y2": {"datum": 228.55}}},
        {"data": {"name": "st1"}, "mark": {"type": "text", "fontSize": 36, "color": "#1A1A1A", "align": "center", "baseline": "middle"},
         "encoding": {"x": {"datum": 24.97, "type": "quantitative", "axis": null}, "y": {"datum": 219.4, "type": "quantitative", "axis": null}, "text": {"field": "strip", "type": "nominal"}}}
      ]
    },
    {
      "width": 1098,
      "height": 937,
      "resolve": {"axis": {"x": "independent", "y": "independent"}},
      "layer": [
        {"data": {"name": "gxmin"}, "mark": {"type": "rule", "color": "#EBEBEB", "strokeWidth": 2.1}, "encoding": {"x": {"field": "v", "type": "quantitative", "axis": null}}},
        {"data": {"name": "gymin"}, "mark": {"type": "rule", "color": "#EBEBEB", "strokeWidth": 2.1}, "encoding": {"y": {"field": "v", "type": "quantitative", "axis": null}}},
        {"data": {"name": "gxmaj"}, "mark": {"type": "rule", "color": "#EBEBEB", "strokeWidth": 4.2}, "encoding": {"x": {"field": "v", "type": "quantitative", "axis": null}}},
        {"data": {"name": "gymaj"}, "mark": {"type": "rule", "color": "#EBEBEB", "strokeWidth": 4.2}, "encoding": {"y": {"field": "v", "type": "quantitative", "axis": null}}},
        {
          "data": {"name": "s2"},
          "mark": {"type": "circle", "size": 11, "color": "black", "opacity": 1, "clip": true},
          "encoding": {
            "x": {"field": "x", "type": "quantitative", "scale": {"domain": [-2.45, 52.4], "nice": false, "zero": false},
                  "axis": {"orient": "bottom", "values": [0, 10, 20, 30, 40, 50], "title": "Reference Concentration [ug/m3]", "titleFontSize": 48,
                           "titleX": 549, "titleY": 105, "titleAlign": "center", "titleBaseline": "alphabetic"}},
            "y": {"field": "y", "type": "quantitative", "scale": {"domain": [-10.2, 228.55], "nice": false, "zero": false}, "axis": null}
          }
        },
        {"data": {"name": "st2"}, "mark": {"type": "rule", "color": "black", "strokeWidth": 7.5, "strokeDash": [37, 38]}, "encoding": {"y": {"datum": 50, "type": "quantitative", "axis": null}}},
        {"data": {"name": "f2"}, "mark": {"type": "line", "color": "#00BA38", "strokeWidth": 7, "interpolate": "monotone", "clip": true},
         "encoding": {"x": {"field": "x", "type": "quantitative", "axis": null}, "y": {"field": "y", "type": "quantitative", "axis": null}}},
        {"data": {"name": "st2"}, "mark": {"type": "text", "text": "DQO", "fontSize": 46, "align": "left", "baseline": "alphabetic", "color": "black"},
         "encoding": {"x": {"datum": -0.75, "type": "quantitative", "axis": null}, "y": {"datum": 35.3, "type": "quantitative", "axis": null}}},
        {"data": {"name": "st2"}, "mark": {"type": "rect", "fill": "#D9D9D9", "stroke": "#333333", "strokeWidth": 2.5},
         "encoding": {"x": {"datum": -2.45, "type": "quantitative", "axis": null}, "x2": {"datum": 52.4}, "y": {"datum": 210.2, "type": "quantitative", "axis": null}, "y2": {"datum": 228.55}}},
        {"data": {"name": "st2"}, "mark": {"type": "text", "fontSize": 36, "color": "#1A1A1A", "align": "center", "baseline": "middle"},
         "encoding": {"x": {"datum": 24.97, "type": "quantitative", "axis": null}, "y": {"datum": 219.4, "type": "quantitative", "axis": null}, "text": {"field": "strip", "type": "nominal"}}}
      ]
    },
    {
      "width": 1098,
      "height": 937,
      "resolve": {"axis": {"x": "independent", "y": "independent"}},
      "layer": [
        {"data": {"name": "gxmin"}, "mark": {"type": "rule", "color": "#EBEBEB", "strokeWidth": 2.1}, "encoding": {"x": {"field": "v", "type": "quantitative", "axis": null}}},
        {"data": {"name": "gymin"}, "mark": {"type": "rule", "color": "#EBEBEB", "strokeWidth": 2.1}, "encoding": {"y": {"field": "v", "type": "quantitative", "axis": null}}},
        {"data": {"name": "gxmaj"}, "mark": {"type": "rule", "color": "#EBEBEB", "strokeWidth": 4.2}, "encoding": {"x": {"field": "v", "type": "quantitative", "axis": null}}},
        {"data": {"name": "gymaj"}, "mark": {"type": "rule", "color": "#EBEBEB", "strokeWidth": 4.2}, "encoding": {"y": {"field": "v", "type": "quantitative", "axis": null}}},
        {
          "data": {"name": "s3"},
          "mark": {"type": "circle", "size": 11, "color": "black", "opacity": 1, "clip": true},
          "encoding": {
            "x": {"field": "x", "type": "quantitative", "scale": {"domain": [-2.45, 52.4], "nice": false, "zero": false},
                  "axis": {"orient": "bottom", "values": [0, 10, 20, 30, 40, 50], "title": null}},
            "y": {"field": "y", "type": "quantitative", "scale": {"domain": [-10.2, 228.55], "nice": false, "zero": false}, "axis": null}
          }
        },
        {"data": {"name": "st3"}, "mark": {"type": "rule", "color": "black", "strokeWidth": 7.5, "strokeDash": [37, 38]}, "encoding": {"y": {"datum": 50, "type": "quantitative", "axis": null}}},
        {"data": {"name": "f3"}, "mark": {"type": "line", "color": "#3399FF", "strokeWidth": 7, "interpolate": "monotone", "clip": true},
         "encoding": {"x": {"field": "x", "type": "quantitative", "axis": null}, "y": {"field": "y", "type": "quantitative", "axis": null}}},
        {"data": {"name": "st3"}, "mark": {"type": "text", "text": "DQO", "fontSize": 46, "align": "left", "baseline": "alphabetic", "color": "black"},
         "encoding": {"x": {"datum": -0.75, "type": "quantitative", "axis": null}, "y": {"datum": 35.3, "type": "quantitative", "axis": null}}},
        {"data": {"name": "st3"}, "mark": {"type": "rect", "fill": "#D9D9D9", "stroke": "#333333", "strokeWidth": 2.5},
         "encoding": {"x": {"datum": -2.45, "type": "quantitative", "axis": null}, "x2": {"datum": 52.4}, "y": {"datum": 210.2, "type": "quantitative", "axis": null}, "y2": {"datum": 228.55}}},
        {"data": {"name": "st3"}, "mark": {"type": "text", "fontSize": 36, "color": "#1A1A1A", "align": "center", "baseline": "middle"},
         "encoding": {"x": {"datum": 24.97, "type": "quantitative", "axis": null}, "y": {"datum": 219.4, "type": "quantitative", "axis": null}, "text": {"field": "strip", "type": "nominal"}}}
      ]
    }
  ],
  "config": {
    "font": "Liberation Sans",
    "view": {"stroke": "#333333", "strokeWidth": 2.5},
    "axis": {
      "grid": false,
      "domain": false,
      "tickColor": "#333333",
      "tickWidth": 3,
      "tickSize": 12,
      "labelFont": "Liberation Sans",
      "labelFontSize": 36,
      "labelColor": "#4D4D4D",
      "labelPadding": 10,
      "labelFlush": false,
      "titleFont": "Liberation Sans",
      "titleColor": "black",
      "titleFontWeight": "normal"
    }
  }
}
